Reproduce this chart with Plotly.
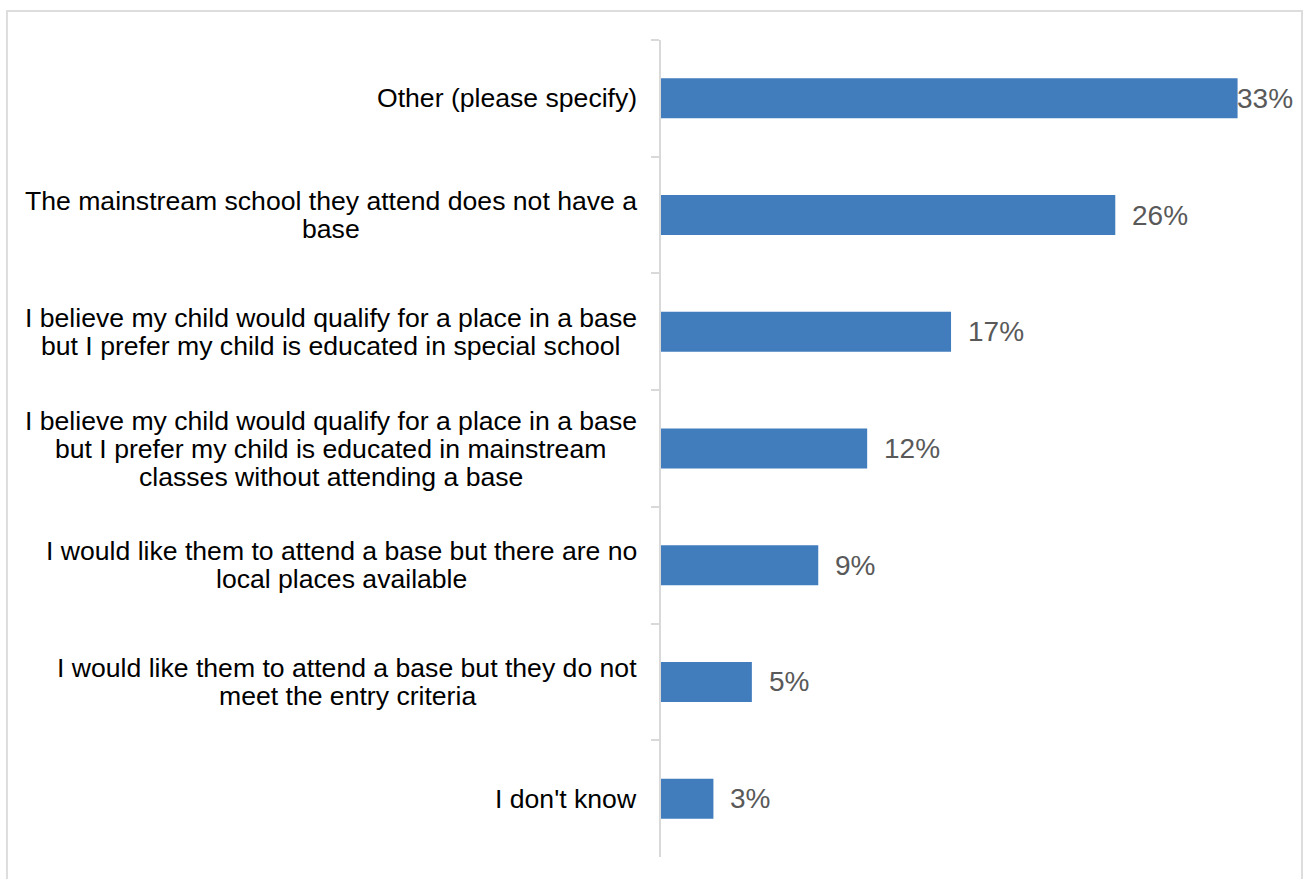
import plotly.graph_objects as go

categories = [
    "Other (please specify)",
    "The mainstream school they attend does not have a<br>base",
    "I believe my child would qualify for a place in a base<br>but I prefer my child is educated in special school",
    "I believe my child would qualify for a place in a base<br>but I prefer my child is educated in mainstream<br>classes without attending a base",
    "I would like them to attend a base but there are no<br>local places available",
    "I would like them to attend a base but they do not<br>meet the entry criteria",
    "I don't know",
]
values = [33.0, 26.0, 16.6, 11.8, 9.0, 5.2, 3.0]
value_labels = ["33%", "26%", "17%", "12%", "9%", "5%", "3%"]

BAR_COLOR = "#417CBD"
AXIS_COLOR = "#D9D9D9"
FONT = "Liberation Sans, Arial, sans-serif"
LABEL_SIZE = 26.6
LINE_STEP = 28
LABEL_GAP = 24

# Arial / Liberation Sans advance widths (units per 1000 em) for centring lines
ARIAL_W = {
    "a": 556, "b": 556, "c": 500, "d": 556, "e": 556, "f": 278, "g": 556,
    "h": 556, "i": 222, "j": 222, "k": 500, "l": 222, "m": 833, "n": 556,
    "o": 556, "p": 556, "q": 556, "r": 333, "s": 500, "t": 278, "u": 556,
    "v": 500, "w": 722, "x": 500, "y": 500, "z": 500, " ": 278, "(": 333,
    ")": 333, "'": 191, "I": 278, "O": 778, "T": 611,
}


def text_width(s, size):
    return sum(ARIAL_W.get(ch, 556) for ch in s) * size / 1000.0


fig = go.Figure()
fig.add_trace(go.Bar(
    x=values,
    y=categories,
    orientation="h",
    marker=dict(color=BAR_COLOR, line=dict(width=0)),
    hoverinfo="skip",
))

annotations = []
for cat in categories:
    lines = cat.split("<br>")
    n = len(lines)
    maxw = max(text_width(ln, LABEL_SIZE) for ln in lines)
    for i, ln in enumerate(lines):
        annotations.append(dict(
            x=0, y=cat, xref="x", yref="y",
            text=ln, showarrow=False,
            xanchor="center", yanchor="middle",
            xshift=-(LABEL_GAP + maxw / 2.0),
            yshift=((n - 1) / 2.0 - i) * LINE_STEP,
            font=dict(family=FONT, size=LABEL_SIZE, color="#000000"),
        ))

max_v = max(values)
for v, lab, cat in zip(values, value_labels, categories):
    annotations.append(dict(
        x=v, y=cat, xref="x", yref="y",
        text=lab, showarrow=False,
        xanchor="left", yanchor="middle",
        xshift=(-3 if v == max_v else 15),
        font=dict(family=FONT, size=28, color="#595959"),
    ))

fig.update_layout(
    width=1303, height=879,
    margin=dict(l=661, r=13, t=40, b=22),
    paper_bgcolor="white",
    plot_bgcolor="white",
    showlegend=False,
    bargap=0.657,
    annotations=annotations,
    shapes=[dict(
        type="rect", xref="paper", yref="paper",
        x0=-1.0398, x1=1.0191, y0=-0.2, y1=1.0355,
        line=dict(color="#DDDDDD", width=2),
        fillcolor="rgba(0,0,0,0)", layer="below",
    )],
    xaxis=dict(
        range=[0, 36], showgrid=False, zeroline=False,
        showticklabels=False, showline=False, ticks="",
    ),
    yaxis=dict(
        autorange="reversed",
        showticklabels=False,
        showgrid=False, zeroline=False,
        showline=True, linecolor=AXIS_COLOR, linewidth=1.5,
        ticks="outside", tickson="boundaries", ticklen=8,
        tickcolor=AXIS_COLOR, tickwidth=1.5,
    ),
)

fig.write_html("out.html")
